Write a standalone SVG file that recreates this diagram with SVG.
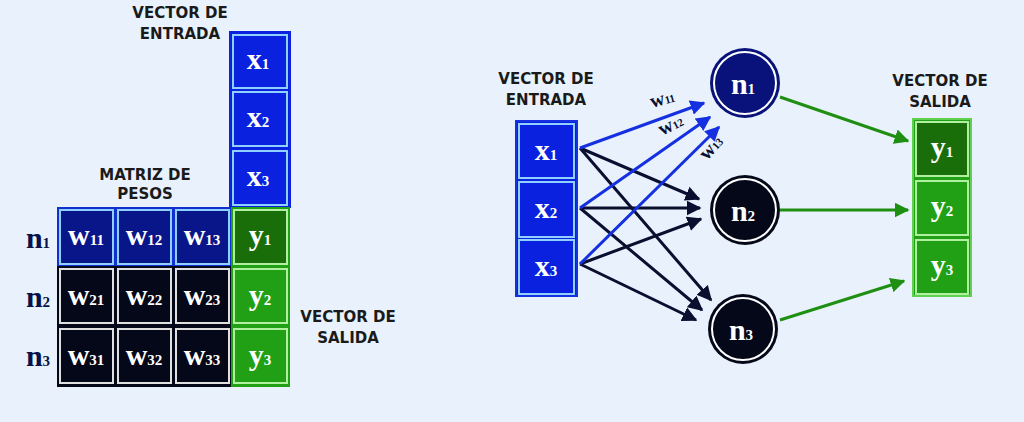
<svg xmlns="http://www.w3.org/2000/svg" width="1024" height="422" viewBox="0 0 1024 422">
<style>
.lbl{font-family:"DejaVu Sans",sans-serif;font-weight:bold;font-size:15px;fill:#1a1a1a;text-anchor:middle}
.v{font-family:"Liberation Serif","DejaVu Serif",serif;font-weight:bold;font-size:30px;fill:#fff;text-anchor:middle}
.s{font-size:15px}
.n{font-family:"Liberation Serif","DejaVu Serif",serif;font-weight:bold;font-size:30px;fill:#07124a;text-anchor:middle}
.cell{stroke:#8fd0ff;stroke-width:2}
.blk{stroke:#e0e0e0;stroke-width:2}
.grn{stroke:#b0f0a0;stroke-width:2}
.nb{stroke:#fff;stroke-width:2}
</style>
<defs>
<marker id="ab" viewBox="0 0 10 10" refX="9" refY="5" markerWidth="5" markerHeight="5" orient="auto"><path d="M0,0L10,5L0,10z" fill="#1530e0"/></marker>
<marker id="ak" viewBox="0 0 10 10" refX="9" refY="5" markerWidth="5" markerHeight="5" orient="auto"><path d="M0,0L10,5L0,10z" fill="#0a0f30"/></marker>
<marker id="ag" viewBox="0 0 10 10" refX="9" refY="5" markerWidth="5" markerHeight="5" orient="auto"><path d="M0,0L10,5L0,10z" fill="#1f8f12"/></marker>
</defs>
<rect width="1024" height="422" fill="#e9f2fc"/>

<!-- Left matrix -->
<g id="left-labels">
<text class="lbl" x="180" y="18">VECTOR DE</text><text class="lbl" x="180" y="39">ENTRADA</text>
<text class="lbl" x="145" y="180">MATRIZ DE</text><text class="lbl" x="145" y="199">PESOS</text>
<text class="lbl" x="348" y="322">VECTOR DE</text><text class="lbl" x="348" y="343">SALIDA</text>
</g>
<g id="left-x">
<rect x="230" y="32" width="60" height="175" fill="#0a22e0" stroke="#0a22e0" stroke-width="2"/>
<rect class="cell" x="233" y="35" width="54" height="53" fill="#0a22e0"/><text class="v" x="258" y="69">x<tspan class="s">1</tspan></text>
<rect class="cell" x="233" y="92" width="54" height="54" fill="#0a22e0"/><text class="v" x="258" y="127">x<tspan class="s">2</tspan></text>
<rect class="cell" x="233" y="151" width="54" height="54" fill="#0a22e0"/><text class="v" x="258" y="186">x<tspan class="s">3</tspan></text>
</g>
<g id="left-w">
<rect x="57" y="207" width="174" height="60" fill="#1030d0"/>
<rect class="cell" x="60" y="210" width="53" height="54" fill="#08168a"/><text class="v" x="86" y="245">w<tspan class="s">11</tspan></text>
<rect class="cell" x="118" y="210" width="53" height="54" fill="#08168a"/><text class="v" x="144" y="245">w<tspan class="s">12</tspan></text>
<rect class="cell" x="176" y="210" width="53" height="54" fill="#08168a"/><text class="v" x="202" y="245">w<tspan class="s">13</tspan></text>
<rect x="57" y="266" width="174" height="121" fill="#050818"/>
<rect class="blk" x="60" y="269" width="53" height="54" fill="#050818"/><text class="v" x="86" y="305">w<tspan class="s">21</tspan></text>
<rect class="blk" x="118" y="269" width="53" height="54" fill="#050818"/><text class="v" x="144" y="305">w<tspan class="s">22</tspan></text>
<rect class="blk" x="176" y="269" width="53" height="54" fill="#050818"/><text class="v" x="202" y="305">w<tspan class="s">23</tspan></text>
<rect class="blk" x="60" y="329" width="53" height="54" fill="#050818"/><text class="v" x="86" y="365">w<tspan class="s">31</tspan></text>
<rect class="blk" x="118" y="329" width="53" height="54" fill="#050818"/><text class="v" x="144" y="365">w<tspan class="s">32</tspan></text>
<rect class="blk" x="176" y="329" width="53" height="54" fill="#050818"/><text class="v" x="202" y="365">w<tspan class="s">33</tspan></text>
</g>
<g id="left-y">
<rect x="231" y="207" width="59" height="180" fill="#22a015"/>
<rect class="grn" x="234" y="210" width="53" height="54" fill="#1a6e0a"/><text class="v" x="260" y="245">y<tspan class="s">1</tspan></text>
<rect class="grn" x="234" y="269" width="53" height="54" fill="#22a015"/><text class="v" x="260" y="305">y<tspan class="s">2</tspan></text>
<rect class="grn" x="234" y="329" width="53" height="54" fill="#22a015"/><text class="v" x="260" y="365">y<tspan class="s">3</tspan></text>
</g>
<g id="left-n">
<text class="n" x="38" y="248">n<tspan class="s">1</tspan></text>
<text class="n" x="38" y="307">n<tspan class="s">2</tspan></text>
<text class="n" x="38" y="366">n<tspan class="s">3</tspan></text>
</g>

<!-- Right network -->
<g id="right-labels">
<text class="lbl" x="546" y="84">VECTOR DE</text><text class="lbl" x="546" y="105">ENTRADA</text>
<text class="lbl" x="940" y="86">VECTOR DE</text><text class="lbl" x="940" y="107">SALIDA</text>
</g>
<g id="connectors" fill="none" stroke-width="3">
<g stroke="#0a0f30" marker-end="url(#ak)">
<line x1="580" y1="148" x2="699" y2="199"/>
<line x1="580" y1="148" x2="711" y2="300"/>
<line x1="580" y1="208" x2="700" y2="208"/>
<line x1="580" y1="208" x2="702" y2="310"/>
<line x1="580" y1="264" x2="701" y2="219"/>
<line x1="580" y1="264" x2="696" y2="320"/>
</g>
<g stroke="#1530e0" marker-end="url(#ab)">
<line x1="580" y1="148" x2="704" y2="103"/>
<line x1="580" y1="208" x2="710" y2="117"/>
<line x1="580" y1="264" x2="719" y2="127"/>
</g>
<g stroke="#1f8f12" marker-end="url(#ag)">
<line x1="780" y1="97" x2="908" y2="141"/>
<line x1="780" y1="210" x2="908" y2="210"/>
<line x1="780" y1="320" x2="904" y2="281"/>
</g>
<g font-family="Liberation Serif,serif" font-weight="bold" font-size="20" fill="#0a0f30">
<text transform="translate(652,108) rotate(-16)">w<tspan font-size="11">11</tspan></text>
<text transform="translate(662,136) rotate(-27)">w<tspan font-size="11">12</tspan></text>
<text transform="translate(707,161) rotate(-48)">w<tspan font-size="11">13</tspan></text>
</g>
</g>
<g id="x-vector">
<rect x="516" y="121" width="61" height="175" fill="#0a22e0" stroke="#1530e0" stroke-width="2"/>
<rect class="cell" x="519" y="124" width="55" height="54" fill="#0a22e0"/><text class="v" x="546" y="160">x<tspan class="s">1</tspan></text>
<rect class="cell" x="519" y="182" width="55" height="55" fill="#0a22e0"/><text class="v" x="546" y="218">x<tspan class="s">2</tspan></text>
<rect class="cell" x="519" y="240" width="55" height="54" fill="#0a22e0"/><text class="v" x="546" y="276">x<tspan class="s">3</tspan></text>
</g>
<g id="node-n1"><circle cx="745" cy="83" r="35" fill="#08127a"/><circle class="nb" cx="745" cy="83" r="31" fill="none"/><text class="v" x="743" y="94">n<tspan class="s">1</tspan></text></g>
<g id="node-n2"><circle cx="745" cy="210" r="35" fill="#050818"/><circle class="nb" cx="745" cy="210" r="31" fill="none"/><text class="v" x="743" y="221">n<tspan class="s">2</tspan></text></g>
<g id="node-n3"><circle cx="743" cy="329" r="35" fill="#050818"/><circle class="nb" cx="743" cy="329" r="31" fill="none"/><text class="v" x="741" y="340">n<tspan class="s">3</tspan></text></g>
<g id="y-vector">
<rect x="913" y="119" width="58" height="177" fill="#22a015" stroke="#5fd050" stroke-width="2"/>
<rect class="grn" x="916" y="122" width="52" height="54" fill="#1a6e0a"/><text class="v" x="942" y="157">y<tspan class="s">1</tspan></text>
<rect class="grn" x="916" y="181" width="52" height="54" fill="#22a015"/><text class="v" x="942" y="216">y<tspan class="s">2</tspan></text>
<rect class="grn" x="916" y="240" width="52" height="54" fill="#22a015"/><text class="v" x="942" y="275">y<tspan class="s">3</tspan></text>
</g>
</svg>
